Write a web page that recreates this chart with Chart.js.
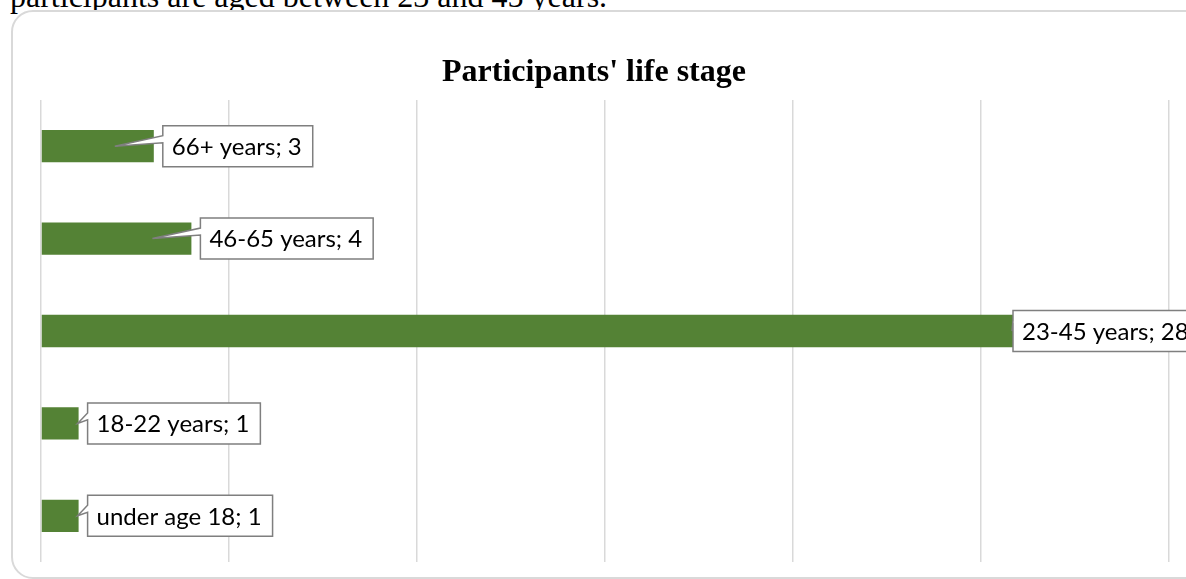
<!DOCTYPE html>
<html>
<head>
<meta charset="utf-8">
<title>Participants' life stage</title>
<script src="https://cdn.jsdelivr.net/npm/chart.js@4/dist/chart.umd.min.js"></script>
<style>
    body { margin: 0; background: #fff; width: 1186px; height: 579px; overflow: hidden; position: relative; }
    .lead {
        position: absolute; left: 10px; top: -20px; margin: 0; line-height: 32px;
        font-family: "Liberation Serif", "Times New Roman", serif; font-size: 32px; color: #000; white-space: nowrap;
    }
    .frame {
        position: absolute; left: 11px; top: 10px; width: 1200px; height: 565px;
        border: 2px solid #d9d9d9; border-radius: 22px; background: #fff;
    }
    #wrap { position: absolute; left: 0; top: 0; width: 1186px; height: 579px; }
</style>
</head>
<body>
<p class="lead">participants are aged between 23 and 45 years.</p>
<div class="frame"></div>
<div id="wrap"><canvas id="lifeChart"></canvas></div>
<script>
// Věkové skupiny (shora dolů) a počty respondentů
const stages = ['66+ years', '46-65 years', '23-45 years', '18-22 years', 'under age 18'];
const counts = [3, 4, 28, 1, 1];
const axisMax = 30;
const axisStep = 5;

// Popisky ve tvaru "skupina; počet" v bublině s výběžkem k pruhu
const calloutPlugin = {
    id: 'callouts',
    afterDatasetsDraw(chart) {
        const ctx = chart.ctx;
        const meta = chart.getDatasetMeta(0);
        const area = chart.chartArea;
        ctx.save();
        ctx.font = '24px Lato, "Open Sans", sans-serif';
        ctx.textBaseline = 'middle';
        meta.data.forEach((bar, i) => {
            const text = `${stages[i]}; ${counts[i]}`;
            const w = ctx.measureText(text).width + 20;
            const h = 41;
            const barLen = bar.x - bar.base;
            // bublina se nevejde za dlouhý pruh -> posunout doleva přes pruh
            const left = Math.min(bar.x + 9, area.right - 156);
            const top = bar.y - h / 2;
            const tipX = barLen > 80 ? Math.min(bar.x - 39, left - 1) : bar.x - 1;
            const tipY = bar.y;

            ctx.beginPath();
            ctx.moveTo(left, top);
            ctx.lineTo(left + w, top);
            ctx.lineTo(left + w, top + h);
            ctx.lineTo(left, top + h);
            ctx.lineTo(left, top + 17);
            ctx.lineTo(tipX, tipY);
            ctx.lineTo(left, top + 10);
            ctx.closePath();
            ctx.fillStyle = '#ffffff';
            ctx.fill();
            ctx.lineWidth = 1.5;
            ctx.strokeStyle = '#7f7f7f';
            ctx.stroke();

            ctx.fillStyle = '#000000';
            ctx.fillText(text, left + 9, bar.y + 1);
        });
        ctx.restore();
    }
};

const ctx = document.getElementById('lifeChart').getContext('2d');
new Chart(ctx, {
    type: 'bar',
    data: {
        labels: stages,
        datasets: [{
            data: counts,
            backgroundColor: '#548235',
            categoryPercentage: 1,
            barPercentage: 0.35
        }]
    },
    options: {
        indexAxis: 'y',
        responsive: true,
        maintainAspectRatio: false,
        animation: false,
        layout: { padding: { left: 19, right: 17, top: 54, bottom: 17 } },
        plugins: {
            legend: { display: false },
            tooltip: { enabled: false },
            title: {
                display: true,
                text: "Participants' life stage",
                color: '#000',
                font: { family: '"Liberation Serif", "Times New Roman", serif', size: 32, weight: 'bold' },
                padding: { top: 0, bottom: 7.6 }
            }
        },
        scales: {
            x: {
                min: 0,
                max: axisMax,
                ticks: { display: false, stepSize: axisStep },
                grid: { color: '#d9d9d9', lineWidth: 1.5, drawTicks: false },
                border: { display: false }
            },
            y: {
                // prázdná osa jen jako odsazení vlevo, popisky nese bublina
                ticks: { display: false },
                grid: { display: false },
                border: { display: false },
                afterFit: (scale) => { scale.width = 22; }
            }
        }
    },
    plugins: [calloutPlugin]
});
</script>
</body>
</html>
